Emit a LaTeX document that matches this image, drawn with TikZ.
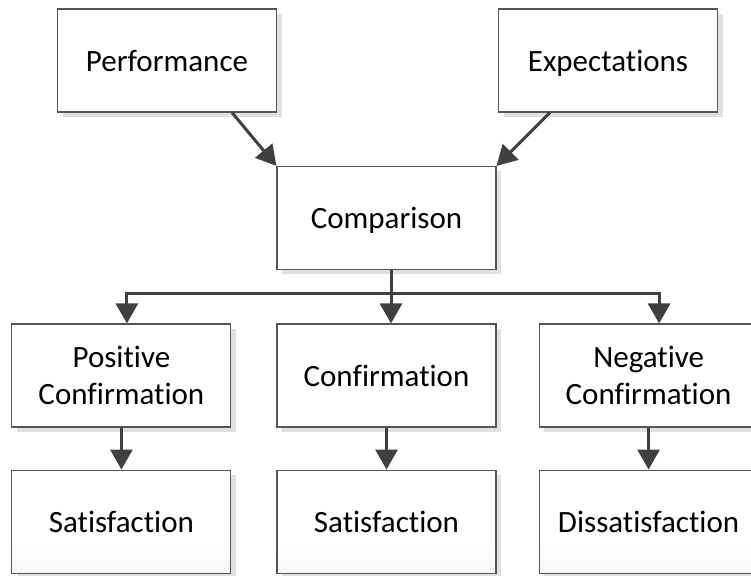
\documentclass[tikz,border=0pt]{standalone}
\usepackage{fontspec}
\setmainfont{Carlito}[Ligatures={NoCommon}]
\usepackage{xcolor}
\usepackage{tikz}
\usetikzlibrary{positioning, arrows.meta, shadows}
\definecolor{boxline}{RGB}{85,85,85}
\definecolor{arrowgray}{RGB}{64,64,64}
\pgfdeclareverticalshading{boxfade}{100bp}{color(0bp)=(black!10); color(38bp)=(white); color(100bp)=(white)}

\begin{document}
\begin{tikzpicture}[x=1pt, y=1pt, node distance=42pt,
  box/.style={draw=boxline, line width=1.1pt, fill=white,
    minimum width=219pt, minimum height=103pt, inner sep=2pt,
    align=center, text depth=0pt,
    font=\fontsize{31}{37.5}\selectfont,
    general shadow={fill=black!12, shadow xshift=5pt, shadow yshift=-5pt}},
  fadebox/.style={box, path picture={\shade[shading=boxfade]
    (path picture bounding box.south west) rectangle (path picture bounding box.north east);}},
  line/.style={arrowgray, line width=3pt},
  arrow/.style={line, -{Triangle[length=20pt, width=22pt]}}]
\useasboundingbox (0,0) rectangle (751,575);
\node[box] (perf) at (167,514.5) {Performance};
\node[box] (exp) at (608,514.5) {Expectations};
\node[box] (comp) at (386.5,357) {Comparison};
\node[box] (conf) at (386.5,199.5) {Confirmation};
\node[box, left=45pt of conf] (pos) {Positive\\Confirmation};
\node[box, right=42pt of conf] (neg) {Negative\\Confirmation};
\node[fadebox, below=of pos] (sat1) {Satisfaction};
\node[fadebox, below=of conf] (sat2) {Satisfaction};
\node[fadebox, below=of neg] (dis) {Dissatisfaction};
\coordinate (fork) at ([xshift=4.5pt, yshift=-23pt]comp.south);

\draw[arrow] ([xshift=65pt]perf.south) -- (comp.north west);
\draw[arrow] ([xshift=-58pt]exp.south) -- (comp.north east);
\draw[line] ([xshift=4.5pt]comp.south) -- (fork);
\draw[arrow] (fork) -| ([xshift=5.5pt]pos.north);
\draw[arrow] (fork) -- ([xshift=4.5pt]conf.north);
\draw[arrow] (fork) -| ([xshift=10.5pt]neg.north);
\draw[arrow] (pos) -- (sat1);
\draw[arrow] (conf) -- (sat2);
\draw[arrow] (neg) -- (dis);
\end{tikzpicture}
\end{document}
